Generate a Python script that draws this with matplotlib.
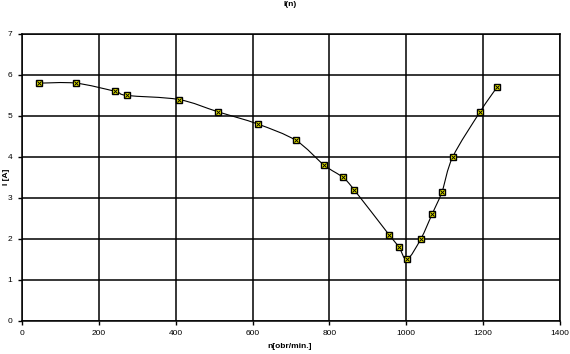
import matplotlib
matplotlib.use("Agg")
import matplotlib.pyplot as plt
from matplotlib.path import Path
import matplotlib.patches as patches

plt.rcParams['font.family'] = ['Liberation Sans', 'DejaVu Sans']

n_rpm = [45, 140, 242, 273, 408, 510, 614, 713, 786, 835, 864,
         955, 981, 1002, 1038, 1067, 1093, 1121, 1192, 1236]
current = [5.8, 5.8, 5.6, 5.5, 5.4, 5.1, 4.8, 4.4, 3.8, 3.5, 3.2,
           2.1, 1.8, 1.5, 2.0, 2.6, 3.15, 4.0, 5.1, 5.7]
x_ticks = [0, 200, 400, 600, 800, 1000, 1200, 1400]
y_ticks = [0, 1, 2, 3, 4, 5, 6, 7]


def smooth_path(xs, ys):
    # Excel-like smoothed line: Catmull-Rom segments as cubic Beziers
    pts = list(zip(xs, ys))
    verts = [pts[0]]
    codes = [Path.MOVETO]
    for i in range(len(pts) - 1):
        p0 = pts[i - 1] if i > 0 else pts[i]
        p1 = pts[i]
        p2 = pts[i + 1]
        p3 = pts[i + 2] if i + 2 < len(pts) else pts[i + 1]
        c1 = (p1[0] + (p2[0] - p0[0]) / 6, p1[1] + (p2[1] - p0[1]) / 6)
        c2 = (p2[0] - (p3[0] - p1[0]) / 6, p2[1] - (p3[1] - p1[1]) / 6)
        verts += [c1, c2, p2]
        codes += [Path.CURVE4] * 3
    return Path(verts, codes)


fig = plt.figure(figsize=(5.7, 3.54), dpi=100)
ax = fig.add_axes([22 / 570, 1 - 320.7 / 354, 538 / 570, 286.7 / 354])

ax.set_xlim(0, 1400)
ax.set_ylim(0, 7)
ax.set_xticks(x_ticks)
ax.set_yticks(y_ticks)
ax.grid(True, color='black', linewidth=1.1)
for s in ax.spines.values():
    s.set_color('black')
    s.set_linewidth(1.1)
ax.tick_params(labelsize=6, length=3, width=1, pad=4)

ax.add_patch(patches.PathPatch(smooth_path(n_rpm, current), fill=False,
                               edgecolor='black', linewidth=0.8, zorder=3))
ax.plot(n_rpm, current, linestyle='none', marker='s', markersize=5,
        markerfacecolor='#ffff00', markeredgecolor='black',
        markeredgewidth=1.0, zorder=4)
ax.plot(n_rpm, current, linestyle='none', marker='x', markersize=3.5,
        color='black', markeredgewidth=0.7, zorder=5)

fig.text(290 / 570, 1 - 5 / 354, 'I(n)', ha='center', va='center',
         fontsize=6, fontweight='bold')
fig.text(290 / 570, 1 - 346 / 354, 'n[obr/min.]', ha='center', va='center',
         fontsize=6, fontweight='bold')
fig.text(7 / 570, 1 - 177 / 354, 'I [A]', ha='center', va='center',
         fontsize=6, fontweight='bold', rotation=90)

fig.savefig('out.png', dpi=100)
